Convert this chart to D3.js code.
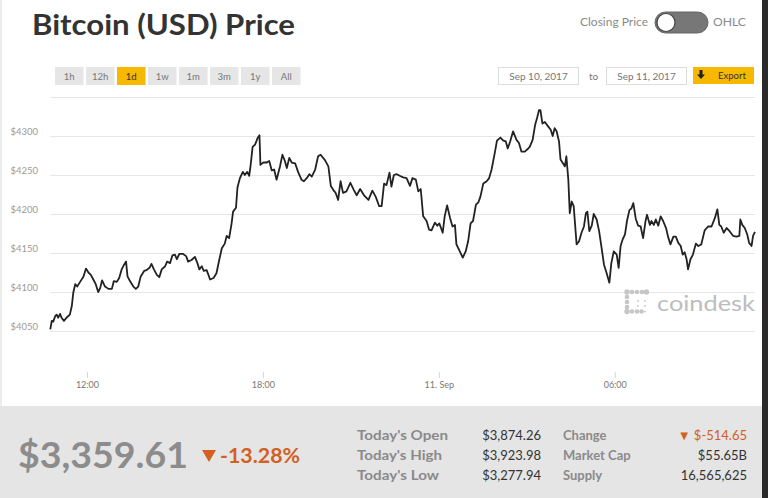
<!DOCTYPE html>
<html><head><meta charset="utf-8">
<script src="https://cdn.jsdelivr.net/npm/d3@7"></script>
<style>
html,body{margin:0;padding:0;background:#fff;overflow:hidden}
svg{display:block;font-family:Lato,"Open Sans",sans-serif}
</style></head><body>
<svg id="c" width="768" height="498"></svg>
<script>
const startTime = Date.UTC(2017, 8, 10, 10, 45);
const minutes = [0,3,6,10,13,16,20,23,28,33,40,44,47,51,55,61,68,73,78,83,88,93,98,102,106,112,119,126,130,136,141,146,151,155,158,163,170,175,180,185,192,197,203,207,212,218,223,228,235,239,245,250,255,259,264,271,278,282,289,296,301,305,310,314,320,327,334,340,346,351,357,361,366,371,374,380,383,388,394,398,403,407,410,414,419,424,428,
430,436,443,448,453,458,463,470,475,480,484,489,494,501,507,514,519,526,530,535,542,548,553,562,569,574,579,584,589,594,599,606,614,621,627,634,642,651,659,666,673,678,683,688,694,698,703,709,715,722,729,736,741,748,753,758,763,770,775,780,787,792,796,803,807,812,818,823,828,831,838,844,850,855,860,865,871,876,880,886,893,898,903,910,914,921,927,932,936,941,947,954,959,964,971,978,981,
987,992,996,1000,1003,1007,1012,1019,1024,1028,1032,1036,1041,1044,1049,1053,1056,1060,1063,1067,1071,1077,1082,1087,1092,1096,1099,1103,1108,1112,1118,1123,1128,1133,1138,1144,1148,1153,1159,1163,1167,1171,1176,1180,1185,1189,1193,1198,1203,1208,1213,1218,1221,1227,1230,1235,1239,1244,1249,1254,1260,1264,1269,1275,1280,1285,1290,1294,1298,1302,1305,1310,1315,1321,1326,1332,1339,1346,1353,1360,1365,1369,1373,1378,1384,1390,1397,1404,1410,1412,1416,1421,1426,1430,1435,1438,1442];
const prices = [4052,4063,4062,4069,4071,4067,4072,4067,4063,4067,4071,4082,4099,4110,4107,4113,4120,4130,4125,4122,4116,4110,4100,4105,4115,4107,4104,4104,4114,4113,4118,4129,4135,4139,4120,4114,4107,4104,4107,4120,4127,4128,4131,4136,4129,4122,4119,4129,4133,4139,4137,4147,4148,4142,4149,4149,4146,4139,4141,4145,4137,4129,4133,4127,4128,4116,4118,4124,4142,4156,4162,4172,4169,4188,4203,4208,4234,4246,4254,4250,4254,4249,4263,4286,4289,4297,4301,
4263,4266,4266,4268,4256,4257,4244,4261,4276,4268,4259,4272,4266,4265,4254,4244,4242,4247,4251,4248,4257,4274,4276,4269,4261,4236,4231,4227,4218,4242,4227,4229,4240,4231,4224,4232,4224,4218,4230,4222,4210,4210,4239,4237,4253,4235,4250,4251,4249,4247,4246,4236,4246,4244,4229,4232,4197,4191,4180,4179,4189,4185,4188,4176,4197,4211,4195,4184,4186,4161,4152,4144,4152,4165,4188,4191,4212,4215,4222,4239,4242,4246,4257,4280,4294,4298,4294,4293,4284,4293,4306,4295,4291,4280,4280,4284,4286,
4295,4314,4323,4333,4333,4316,4318,4312,4308,4300,4310,4306,4293,4270,4265,4261,4274,4244,4201,4216,4210,4161,4165,4176,4184,4201,4203,4178,4185,4200,4193,4178,4157,4135,4125,4112,4137,4152,4148,4131,4159,4167,4174,4191,4205,4207,4214,4194,4185,4184,4169,4191,4199,4186,4191,4186,4193,4185,4197,4191,4182,4171,4161,4171,4171,4163,4159,4148,4151,4142,4129,4142,4148,4162,4159,4161,4179,4184,4184,4195,4206,4186,4184,4176,4182,4178,4172,4171,4172,4193,4186,4182,4174,4163,4159,4172,4177];
const yGridTicks = [4050, 4100, 4150, 4200, 4250, 4300, 4350];
const yLabelTicks = [4050, 4100, 4150, 4200, 4250, 4300];
const xTicks = [new Date(Date.UTC(2017,8,10,12)), new Date(Date.UTC(2017,8,10,18)), new Date(Date.UTC(2017,8,11,0)), new Date(Date.UTC(2017,8,11,6))];
const rangeButtons = ["1h","12h","1d","1w","1m","3m","1y","All"];
const selectedRange = "1d";
const fromDate = "Sep 10, 2017", toDate = "Sep 11, 2017";
const currentPrice = "$3,359.61", changePct = "-13.28%";
const statLabels1 = ["Today's Open","Today's High","Today's Low"];
const statValues1 = ["$3,874.26","$3,923.98","$3,277.94"];
const statLabels2 = ["Change","Market Cap","Supply"];
const statValues2 = ["▼ $-514.65","$55.65B","16,565,625"];

const svg = d3.select("#c");
const fit = (sel, w) => { const n = sel.node(); const L = n.getComputedTextLength(); if (Math.abs(L - w) / w > 0.02) sel.attr("textLength", w).attr("lengthAdjust", "spacingAndGlyphs"); return sel; };

// frame edges
svg.append("rect").attr("x",0).attr("y",0).attr("width",768).attr("height",498).attr("fill","#fff");
svg.append("rect").attr("x",0).attr("y",0).attr("width",2).attr("height",406).attr("fill","#ececec");
svg.append("rect").attr("x",762).attr("y",0).attr("width",6).attr("height",498).attr("fill","#2a2a2a");

// title
fit(svg.append("text").attr("x",32).attr("y",35).attr("font-size",29).attr("font-weight",700).attr("fill","#333").text("Bitcoin (USD) Price"), 263);

// toggle
fit(svg.append("text").attr("x",648).attr("y",26).attr("text-anchor","end").attr("font-size",11.5).attr("fill","#8a8a8a").text("Closing Price"), 68);
svg.append("rect").attr("x",655).attr("y",12).attr("width",53).attr("height",21).attr("rx",10.5).attr("fill","#777").attr("stroke","#666");
svg.append("circle").attr("cx",666).attr("cy",22.5).attr("r",9).attr("fill","#fff").attr("stroke","#444").attr("stroke-width",1.2);
fit(svg.append("text").attr("x",713).attr("y",26).attr("font-size",11.5).attr("fill","#8a8a8a").text("OHLC"), 33);

// range buttons
const bg = svg.append("g");
rangeButtons.forEach((b, i) => {
  const x = 55 + i * 31;
  bg.append("rect").attr("x", x).attr("y", 67).attr("width", 28.5).attr("height", 18)
    .attr("fill", b === selectedRange ? "#f7b900" : "#e6e6e6");
  bg.append("text").attr("x", x + 14.25).attr("y", 79.5).attr("text-anchor","middle").attr("font-size",9.5)
    .attr("fill", b === selectedRange ? "#333" : "#777").text(b);
});

// date inputs
[[498, fromDate],[606, toDate]].forEach(([x, t]) => {
  svg.append("rect").attr("x", x + 0.5).attr("y", 67.5).attr("width", 80).attr("height", 17).attr("fill","#fff").attr("stroke","#ddd");
  svg.append("text").attr("x", x + 40.5).attr("y", 79.5).attr("text-anchor","middle").attr("font-size",10).attr("fill","#777").text(t);
});
svg.append("text").attr("x", 593.5).attr("y", 79.5).attr("text-anchor","middle").attr("font-size",10).attr("fill","#777").text("to");
svg.append("rect").attr("x",693).attr("y",67).attr("width",61).attr("height",17).attr("fill","#f7b900");
svg.append("path").attr("d","M699.5,70 h3 v4.5 h2.5 l-4,4.5 l-4,-4.5 h2.5 z").attr("fill","#222");
svg.append("text").attr("x",718).attr("y",79).attr("font-size",9.5).attr("fill","#333").text("Export");

// chart
const x = d3.scaleUtc().domain([new Date(startTime), new Date(startTime + 1442 * 60000)]).range([50.3, 755]);
const y = d3.scaleLinear().domain([4050, 4350]).range([331, 97]);

svg.append("g").selectAll("line").data(yGridTicks).join("line")
  .attr("x1", 50).attr("x2", 755).attr("y1", d => Math.round(y(d)) + 0.5).attr("y2", d => Math.round(y(d)) + 0.5)
  .attr("stroke", "#e6e6e6").attr("stroke-width", 1);

svg.append("g").selectAll("text").data(yLabelTicks).join("text")
  .attr("x", 38).attr("y", d => y(d) - 1).attr("text-anchor","end").attr("font-size",9.5).attr("fill","#a09a96")
  .text(d => "$" + d);

// x axis
const xAxis = d3.axisBottom(x).tickValues(xTicks).tickSize(6).tickPadding(4)
  .tickFormat(d => d.getUTCHours() === 0 ? d.getUTCDate() + ". Sep" : d3.utcFormat("%H:%M")(d));
const xg = svg.append("g").attr("transform","translate(0,372)").call(xAxis);
xg.select(".domain").remove();
xg.selectAll(".tick line").attr("stroke","#ccd6eb");
xg.selectAll(".tick text").attr("font-size",9).attr("fill","#777").attr("font-family","Lato,'Open Sans',sans-serif");

// line
const pts = minutes.map((m, i) => ({ t: new Date(startTime + m * 60000), v: prices[i] }));
svg.append("path").datum(pts)
  .attr("d", d3.line().x(d => x(d.t)).y(d => y(d.v)))
  .attr("fill","none").attr("stroke","#222").attr("stroke-width",1.8).attr("stroke-linejoin","round");

// watermark
const logo = svg.append("g").attr("fill","#c6c6c6");
[[627,292],[632,292],[637,292],[642,292],[646.5,292],[627,297],[627,302],[627,307],[627,311.5],[632,311.5],[637,311.5],[641.5,311.5]].forEach(([cx,cy],i)=>
  logo.append("circle").attr("cx",cx).attr("cy",cy).attr("r", i===0||i===4||i===8 ? 2.7 : 2.3));
[[638,301],[645,301],[638,306],[645,306],[645,311.5]].forEach(([cx,cy])=>logo.append("circle").attr("cx",cx).attr("cy",cy).attr("r",0.9));
fit(svg.append("text").attr("x",657).attr("y",311).attr("font-size",22).attr("fill","#bdbdbd").text("coindesk"), 98);

// bottom panel
svg.append("rect").attr("x",0).attr("y",406).attr("width",762).attr("height",92).attr("fill","#e5e5e5");
fit(svg.append("text").attr("x",18).attr("y",468).attr("font-size",36).attr("font-weight",700).attr("fill","#8c8c8c").text(currentPrice), 170);
svg.append("path").attr("d","M202,450 h14 l-7,12 z").attr("fill","#d2601f");
fit(svg.append("text").attr("x",220).attr("y",463).attr("font-size",20).attr("font-weight",700).attr("fill","#d2601f").text(changePct), 80);

statLabels1.forEach((l, i) => {
  fit(svg.append("text").attr("x",357).attr("y",440 + i*20).attr("font-size",13).attr("font-weight",700).attr("fill","#8a8a8a").text(l), [91, 85, 82][i]);
  svg.append("text").attr("x",541).attr("y",440 + i*20).attr("text-anchor","end").attr("font-size",13).attr("fill","#333").text(statValues1[i]);
});
statLabels2.forEach((l, i) => {
  svg.append("text").attr("x",563).attr("y",440 + i*20).attr("font-size",13).attr("font-weight",700).attr("fill","#8a8a8a").text(l);
  svg.append("text").attr("x",747).attr("y",440 + i*20).attr("text-anchor","end").attr("font-size",13)
    .attr("fill", i === 0 ? "#d2601f" : "#333").text(statValues2[i]);
});
</script></body></html>
